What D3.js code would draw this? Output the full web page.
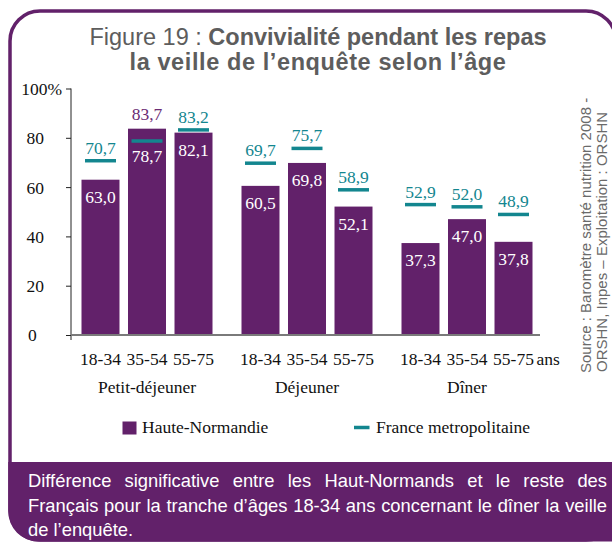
<!DOCTYPE html>
<html>
<head>
<meta charset="utf-8">
<script src="https://cdn.jsdelivr.net/npm/d3@7"></script>
<style>
  body { margin: 0; background: #fff; }
  svg { display: block; }
</style>
</head>
<body>
<svg id="chart"></svg>
<script>
// data
const meals = ['Petit-déjeuner', 'Déjeuner', 'Dîner'];
const ages = ['18-34', '35-54', '55-75'];
const hauteNormandie = [[63.0, 83.7, 82.1], [60.5, 69.8, 52.1], [37.3, 47.0, 37.8]];
const franceMetro = [[70.7, 78.7, 83.2], [69.7, 75.7, 58.9], [52.9, 52.0, 48.9]];
const yTicks = [0, 20, 40, 60, 80, 100];
const seriesNames = ['Haute-Normandie', 'France metropolitaine'];
const titleRegular = 'Figure 19 : ';
const titleBold = ['Convivialité pendant les repas', 'la veille de l’enquête selon l’âge'];
const sourceLines = ['Source : Baromètre santé nutrition 2008 -', 'ORSHN, Inpes – Exploitation : ORSHN'];
const noteLines = [
  'Différence significative entre les Haut-Normands et le reste des',
  'Français pour la tranche d’âges 18-34 ans concernant le dîner la veille',
  'de l’enquête.'
];

const width = 612, height = 544;
const purple = '#62216a', teal = '#13868f', greyText = '#5d5d5d';
const serif = '"Liberation Serif", "Times New Roman", serif';
const sans = '"Liberation Sans", Arial, sans-serif';

const svg = d3.select('#chart').attr('width', width).attr('height', height);
const fr = d3.formatLocale({ decimal: ',', thousands: ' ', grouping: [3], currency: ['', ''] }).format('.1f');

// frame
svg.append('rect')
  .attr('x', 10).attr('y', 11).attr('width', 606).attr('height', 529)
  .attr('rx', 30)
  .attr('fill', '#fff').attr('stroke', purple).attr('stroke-width', 3.5);

// footer band
const fp = d3.path();
fp.moveTo(8.25, 462);
fp.lineTo(614, 462);
fp.lineTo(614, 541.5);
fp.lineTo(38, 541.5);
fp.arcTo(8.25, 541.5, 8.25, 511, 30);
fp.closePath();
svg.append('path').attr('d', fp.toString()).attr('fill', purple);

// title
const title = svg.append('g')
  .attr('font-family', sans).attr('font-size', 23.5).attr('fill', greyText)
  .attr('text-anchor', 'middle');
const t1 = title.append('text').attr('x', 318).attr('y', 45);
t1.append('tspan').text(titleRegular);
t1.append('tspan').attr('font-weight', 'bold').text(titleBold[0]);
title.append('text').attr('x', 318).attr('y', 70).attr('font-weight', 'bold')
  .attr('letter-spacing', 0.6).text(titleBold[1]);

// scales
const y = d3.scaleLinear().domain([0, 100]).range([335, 88.5]);
const xGroup = d3.scaleBand().domain(meals).range([67, 547]);
const xAge = d3.scaleBand().domain(ages).range([0, 131]).paddingInner(0.183).paddingOuter(0);
const barX = (m, a) => xGroup(m) + xGroup.bandwidth() / 2 - 65.5 + xAge(a);
const barMid = (m, a) => barX(m, a) + xAge.bandwidth() / 2;

// y axis
const yAxis = svg.append('g')
  .attr('transform', 'translate(71,0)')
  .call(d3.axisLeft(y).tickValues(yTicks).tickSize(5).tickSizeOuter(0)
    .tickFormat(d => d === 100 ? '100%' : d));
yAxis.select('.domain').remove();
yAxis.selectAll('line').attr('stroke', '#222');
yAxis.selectAll('text')
  .attr('font-family', serif).attr('font-size', 17.5).attr('fill', '#111')
  .attr('dy', '0.34em')
  .each(function (d) {
    const t = d3.select(this);
    if (d === 100) t.attr('text-anchor', 'end').attr('x', -9);
    else t.attr('text-anchor', 'start').attr('x', d === 0 ? -43 : -44.5);
  });
svg.append('line')
  .attr('x1', 71).attr('x2', 71).attr('y1', y(100)).attr('y2', y(0) + 5)
  .attr('stroke', '#222');

// rows of data
const rows = [];
meals.forEach((m, i) => ages.forEach((a, j) => rows.push({
  meal: m, age: a, hn: hauteNormandie[i][j], fr: franceMetro[i][j]
})));

// bars
svg.append('g').selectAll('rect').data(rows).join('rect')
  .attr('x', d => barX(d.meal, d.age))
  .attr('y', d => y(d.hn))
  .attr('width', xAge.bandwidth())
  .attr('height', d => y(0) - y(d.hn))
  .attr('fill', purple);

// baseline
svg.append('line')
  .attr('x1', 71).attr('x2', 540).attr('y1', y(0)).attr('y2', y(0))
  .attr('stroke', '#7a7a7a').attr('stroke-width', 2);

// France markers
const dashW = 31;
svg.append('g').selectAll('line').data(rows).join('line')
  .attr('x1', d => barMid(d.meal, d.age) - dashW / 2)
  .attr('x2', d => barMid(d.meal, d.age) + dashW / 2)
  .attr('y1', d => y(d.fr)).attr('y2', d => y(d.fr))
  .attr('stroke', teal).attr('stroke-width', 3.5);

// value labels
const labels = svg.append('g')
  .attr('font-family', serif).attr('font-size', 17.5).attr('text-anchor', 'middle');
rows.forEach(d => {
  const cx = barMid(d.meal, d.age);
  if (d.hn > d.fr) {
    labels.append('text').attr('x', cx).attr('y', y(d.hn) - 9).attr('fill', '#6b2c74').text(fr(d.hn));
    labels.append('text').attr('x', cx).attr('y', y(d.fr) + 21).attr('fill', '#fff').text(fr(d.fr));
  } else {
    labels.append('text').attr('x', cx).attr('y', y(d.fr) - 7).attr('fill', teal).text(fr(d.fr));
    labels.append('text').attr('x', cx).attr('y', y(d.hn) + 23).attr('fill', '#fff').text(fr(d.hn));
  }
});

// x labels
const xl = svg.append('g').attr('font-family', serif).attr('font-size', 17.5).attr('fill', '#111');
xl.selectAll('text.age').data(rows).join('text').attr('class', 'age')
  .attr('x', d => barMid(d.meal, d.age)).attr('y', 365)
  .attr('text-anchor', 'middle').text(d => d.age);
xl.append('text').attr('x', 536.5).attr('y', 365).text('ans');
xl.selectAll('text.meal').data(meals).join('text').attr('class', 'meal')
  .attr('x', d => xGroup(d) + xGroup.bandwidth() / 2).attr('y', 392.5)
  .attr('text-anchor', 'middle').text(d => d);

// legend
const lg = svg.append('g').attr('font-family', serif).attr('font-size', 17.5).attr('fill', '#111');
lg.append('rect').attr('x', 122.5).attr('y', 421.5).attr('width', 14).attr('height', 13).attr('fill', purple);
lg.append('text').attr('x', 142).attr('y', 432.5).text(seriesNames[0]);
lg.append('line').attr('x1', 354).attr('x2', 369.5).attr('y1', 427.5).attr('y2', 427.5)
  .attr('stroke', teal).attr('stroke-width', 3.5);
lg.append('text').attr('x', 376).attr('y', 432.5).text(seriesNames[1]);

// source, rotated
const src = svg.append('g').attr('font-family', sans).attr('font-size', 15).attr('fill', '#6a6a6a');
src.append('text').attr('transform', 'translate(591,373) rotate(-90)').text(sourceLines[0]);
src.append('text').attr('transform', 'translate(607,372) rotate(-90)').text(sourceLines[1]);

// footer note, justified between two edges
const noteX0 = 28, noteX1 = 607, noteY = [487, 511.5, 536];
const note = svg.append('g').attr('font-family', sans).attr('font-size', 16.5).attr('fill', '#fff');
// size the font so the longest line nearly fills the band, like the original
const probe = note.append('text').text(noteLines[1]);
const fs = Math.min(19, 16.5 * (noteX1 - noteX0 - 6) / probe.node().getComputedTextLength());
probe.remove();
note.attr('font-size', fs);
noteLines.forEach((line, i) => {
  if (i === noteLines.length - 1) {
    note.append('text').attr('x', noteX0).attr('y', noteY[i]).text(line);
    return;
  }
  const words = line.split(' ');
  const nodes = words.map(w => note.append('text').attr('y', noteY[i]).text(w));
  const widths = nodes.map(n => n.node().getComputedTextLength());
  const gap = (noteX1 - noteX0 - d3.sum(widths)) / (words.length - 1);
  let x = noteX0;
  nodes.forEach((n, k) => { n.attr('x', x); x += widths[k] + gap; });
});
</script>
</body>
</html>
